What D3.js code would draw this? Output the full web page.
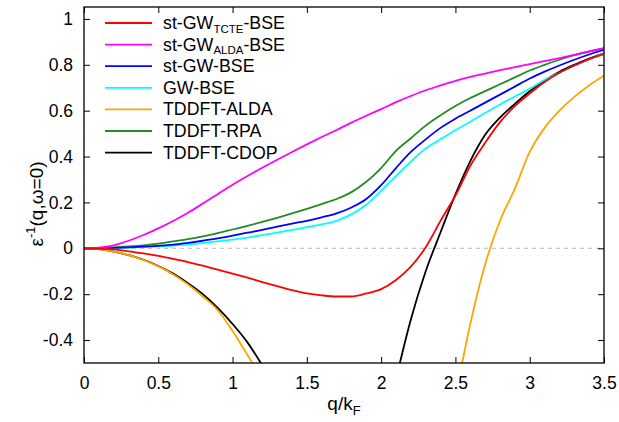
<!DOCTYPE html>
<html>
<head>
<meta charset="utf-8">
<title>inverse dielectric function</title>
<script src="https://d3js.org/d3.v7.min.js"></script>
<style>
  body, html { margin: 0; padding: 0; background: #fff; }
  svg { display: block; font-family: "Liberation Sans", Arial, sans-serif; }
  .tick text { font-size: 17.5px; fill: #000; }
  .legend text { font-size: 17.8px; }
  .curve { fill: none; stroke-width: 1.8px; }
</style>
</head>
<body>
<svg id="chart" width="619" height="422"></svg>
<script>
// q/kF grid, step 0.1
var qGrid = [0, 0.1, 0.2, 0.3, 0.4, 0.5, 0.6, 0.7, 0.8, 0.9, 1.0, 1.1, 1.2, 1.3, 1.4, 1.5, 1.6, 1.7,
             1.8, 1.9, 2.0, 2.1, 2.2, 2.3, 2.4, 2.5, 2.6, 2.7, 2.8, 2.9, 3.0, 3.1, 3.2, 3.3, 3.4, 3.5];

var stgwTcte = [0, -0.001, -0.005, -0.013, -0.022, -0.033, -0.046, -0.06, -0.076, -0.093, -0.11, -0.128,
                -0.147, -0.165, -0.182, -0.196, -0.205, -0.21, -0.21, -0.197, -0.178, -0.138, -0.08, 0.005,
                0.12, 0.23, 0.36, 0.46, 0.55, 0.62, 0.675, 0.725, 0.765, 0.797, 0.825, 0.847];
var stgwAlda = [0, 0.003, 0.013, 0.033, 0.058, 0.087, 0.119, 0.155, 0.195, 0.236, 0.277, 0.315, 0.351, 0.386,
                0.42, 0.453, 0.485, 0.516, 0.548, 0.578, 0.607, 0.637, 0.664, 0.689, 0.71, 0.73, 0.747, 0.762,
                0.777, 0.79, 0.803, 0.816, 0.829, 0.843, 0.858, 0.873];
var stgwBse = [0, 0, 0.002, 0.004, 0.007, 0.011, 0.016, 0.024, 0.033, 0.043, 0.055, 0.068, 0.08, 0.095,
               0.108, 0.12, 0.135, 0.152, 0.178, 0.215, 0.275, 0.35, 0.42, 0.475, 0.525, 0.565, 0.6, 0.635,
               0.67, 0.705, 0.74, 0.77, 0.797, 0.822, 0.845, 0.865];
var gwBse = [0, 0, 0.001, 0.003, 0.005, 0.008, 0.012, 0.017, 0.023, 0.03, 0.038, 0.047, 0.057, 0.068, 0.08,
             0.092, 0.104, 0.12, 0.148, 0.19, 0.25, 0.315, 0.378, 0.435, 0.475, 0.515, 0.552, 0.59, 0.627,
             0.662, 0.695, 0.735, 0.765, 0.795, 0.823, 0.85];
var tddftAlda = [0, -0.004, -0.014, -0.03, -0.051, -0.079, -0.114, -0.158, -0.21, -0.27, -0.36, -0.465, -0.57,
                 null, null, null, null, null, null, null, null, null, null, null, null,
                 -0.65, -0.33, -0.07, 0.12, 0.26, 0.42, 0.525, 0.6, 0.66, 0.71, 0.752];
var tddftRpa = [0, 0.001, 0.004, 0.008, 0.013, 0.02, 0.03, 0.04, 0.052, 0.066, 0.082, 0.098, 0.115, 0.133,
                0.152, 0.172, 0.193, 0.215, 0.245, 0.29, 0.35, 0.425, 0.48, 0.535, 0.58, 0.62, 0.655, 0.685,
                0.715, 0.745, 0.775, 0.8, 0.822, 0.842, 0.858, 0.872];
var tddftCdop = [0, -0.004, -0.014, -0.03, -0.05, -0.077, -0.11, -0.152, -0.2, -0.26, -0.33, -0.41, -0.51, -0.62,
                 null, null, null, null, null, null, null,
                 -0.57, -0.31, -0.1, 0.07, 0.235, 0.38, 0.495, 0.57, 0.63, 0.685, 0.732, 0.77, 0.8, 0.827, 0.85];

var xTicks = [0, 0.5, 1, 1.5, 2, 2.5, 3, 3.5];
var yTicks = [-0.4, -0.2, 0, 0.2, 0.4, 0.6, 0.8, 1];

var series = [
  { name: "st-GW", sub: "TCTE", tail: "-BSE", color: "#ff0000", values: stgwTcte },
  { name: "st-GW", sub: "ALDA", tail: "-BSE", color: "#ff00ff", values: stgwAlda },
  { name: "st-GW-BSE", color: "#0000ff", values: stgwBse },
  { name: "GW-BSE", color: "#00ffff", values: gwBse },
  { name: "TDDFT-ALDA", color: "#ffa500", values: tddftAlda },
  { name: "TDDFT-RPA", color: "#228b22", values: tddftRpa },
  { name: "TDDFT-CDOP", color: "#000000", values: tddftCdop }
];

var svg = d3.select("#chart");
var margin = { top: 7, right: 15, bottom: 59, left: 84 };
var width = 619 - margin.left - margin.right;
var height = 422 - margin.top - margin.bottom;

var x = d3.scaleLinear().domain([0, 3.5]).range([0, width]);
var y = d3.scaleLinear().domain([-0.5, 1.052]).range([height, 0]);
var plain = function (d) { return String(d); };

var g = svg.append("g").attr("transform", "translate(" + margin.left + "," + margin.top + ")");

g.append("clipPath").attr("id", "clip")
  .append("rect").attr("width", width).attr("height", height);

// zero line
g.append("line")
  .attr("x1", 0).attr("x2", width)
  .attr("y1", y(0)).attr("y2", y(0))
  .attr("stroke", "#bbbbbb").attr("stroke-width", 1)
  .attr("stroke-dasharray", "4,4");

// axes with inward ticks, mirrored
var axBottom = g.append("g").attr("transform", "translate(0," + height + ")")
  .call(d3.axisBottom(x).tickValues(xTicks).tickSize(-6).tickPadding(14).tickFormat(plain));
var axTop = g.append("g")
  .call(d3.axisTop(x).tickValues(xTicks).tickSize(-6).tickFormat(""));
var axLeft = g.append("g")
  .call(d3.axisLeft(y).tickValues(yTicks).tickSize(-6).tickPadding(11).tickFormat(plain));
var axRight = g.append("g").attr("transform", "translate(" + width + ",0)")
  .call(d3.axisRight(y).tickValues(yTicks).tickSize(-6).tickFormat(""));

[axBottom, axTop, axLeft, axRight].forEach(function (a) {
  a.select(".domain").remove();
  a.selectAll(".tick line").attr("stroke", "#000").attr("stroke-width", 1);
});

var line = d3.line()
  .defined(function (d) { return d[1] !== null; })
  .x(function (d) { return x(d[0]); })
  .y(function (d) { return y(d[1]); })
  .curve(d3.curveMonotoneX);

var plot = g.append("g").attr("clip-path", "url(#clip)");
series.slice().reverse().forEach(function (s) {
  plot.append("path")
    .attr("class", "curve")
    .attr("stroke", s.color)
    .attr("d", line(qGrid.map(function (q, i) { return [q, s.values[i]]; })));
});

// frame
g.append("rect")
  .attr("width", width).attr("height", height)
  .attr("fill", "none").attr("stroke", "#000").attr("stroke-width", 1.3);

// legend
var legend = g.append("g").attr("class", "legend").attr("transform", "translate(21,16)");
series.forEach(function (s, i) {
  var row = legend.append("g").attr("transform", "translate(0," + (i * 21.6) + ")");
  row.append("line").attr("x1", 0).attr("x2", 47).attr("y1", 0).attr("y2", 0)
    .attr("stroke", s.color).attr("stroke-width", 1.8);
  var t = row.append("text").attr("x", 58).attr("y", 6);
  t.append("tspan").text(s.name);
  if (s.sub) {
    t.append("tspan").attr("dy", 3.5).style("font-size", "11.5px").text(s.sub);
    t.append("tspan").attr("dy", -3.5).text(s.tail);
  }
});

// axis labels
var xl = svg.append("text")
  .attr("x", margin.left + width / 2).attr("y", 410)
  .attr("text-anchor", "middle").style("font-size", "19px");
xl.append("tspan").text("q/k");
xl.append("tspan").attr("dy", 5).style("font-size", "13px").text("F");

var yl = svg.append("text")
  .attr("transform", "translate(43,204) rotate(-90)")
  .attr("text-anchor", "middle").style("font-size", "19px");
yl.append("tspan").text("\u03b5");
yl.append("tspan").attr("dy", -8).style("font-size", "13px").text("-1");
yl.append("tspan").attr("dy", 8).text("(q,\u03c9=0)");
</script>
</body>
</html>
